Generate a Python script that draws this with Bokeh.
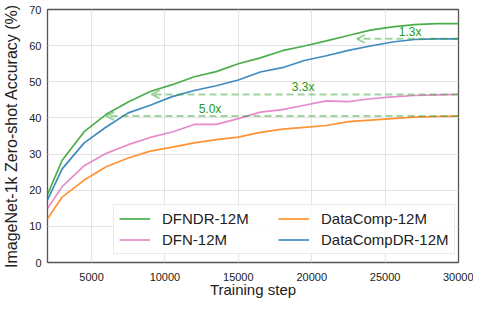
import numpy as np
from bokeh.plotting import figure
from bokeh.models import ColumnDataSource, Arrow, OpenHead, Legend, LegendItem, FixedTicker
from bokeh.core.properties import value
from bokeh.embed import file_html
from bokeh.resources import INLINE

# ---- data ----
steps = [2000, 3000, 4500, 6000, 7500, 9000, 10500, 12000, 13500, 15000,
         16500, 18000, 19500, 21000, 22500, 24000, 25500, 27000, 28500, 30000]
dfndr = [18.8, 28.3, 36.2, 41.0, 44.4, 47.3, 49.2, 51.4, 52.8, 55.0,
         56.6, 58.6, 59.9, 61.3, 62.8, 64.3, 65.2, 65.8, 66.1, 66.1]
dfn = [14.9, 21.0, 26.8, 30.2, 32.6, 34.6, 36.1, 38.2, 38.2, 39.8,
       41.6, 42.3, 43.5, 44.7, 44.5, 45.3, 45.8, 46.2, 46.4, 46.5]
datacomp = [12.1, 18.1, 22.8, 26.5, 28.9, 30.8, 31.9, 33.1, 34.0, 34.7,
            36.0, 36.9, 37.4, 37.9, 39.0, 39.4, 39.8, 40.2, 40.4, 40.5]
datacompdr = [17.3, 25.9, 33.1, 37.5, 41.4, 43.5, 45.9, 47.6, 48.9, 50.5,
              52.7, 53.9, 55.9, 57.2, 58.7, 59.9, 61.0, 61.7, 61.9, 61.9]

speedups = [5.0, 3.3, 1.3]
speedup_labels = ["5.0x", "3.3x", "1.3x"]
speedup_refs = [datacomp, dfn, datacompdr]
label_steps = [13070, 19420, 26700]

x_ticks = [5000, 10000, 15000, 20000, 25000, 30000]
y_ticks = [0, 10, 20, 30, 40, 50, 60, 70]

FONT = "Liberation Sans"
C_GREEN = "#2ca02c"
C_PINK = "#e377c2"
C_ORANGE = "#ff7f0e"
C_BLUE = "#1f77b4"

p = figure(width=473, height=300, x_range=(2000, 30000), y_range=(0, 70),
           output_backend="svg", toolbar_location=None,
           min_border_left=46, min_border_right=15, min_border_top=9, min_border_bottom=0)

p.outline_line_color = "#555555"
p.outline_line_width = 1.3
p.background_fill_color = "white"
p.grid.grid_line_color = "#e3e3e3"
p.grid.grid_line_width = 1

p.xaxis.ticker = FixedTicker(ticks=x_ticks)
p.yaxis.ticker = FixedTicker(ticks=y_ticks)
for ax in (p.xaxis[0], p.yaxis[0]):
    ax.axis_line_color = None
    ax.major_tick_line_color = None
    ax.minor_tick_line_color = None
    ax.major_tick_out = 0
    ax.major_tick_in = 0
    ax.minor_tick_out = 0
    ax.minor_tick_in = 0
    ax.major_label_text_font = FONT
    ax.major_label_text_font_size = "11px"
    ax.major_label_text_color = "#222222"
    ax.axis_label_text_font = FONT
    ax.axis_label_text_font_style = "normal"
    ax.axis_label_text_color = "#222222"
p.xaxis.axis_label_text_font_size = "15px"
p.yaxis.axis_label_text_font_size = "16px"
p.xaxis.axis_label = "Training step"
p.yaxis.axis_label = "ImageNet-1k Zero-shot Accuracy (%)"
p.xaxis.major_label_standoff = 10
p.xaxis.axis_label_standoff = -3
p.yaxis.major_label_standoff = 6
p.yaxis.axis_label_standoff = 6

src = ColumnDataSource(dict(step=steps, dfndr=dfndr, dfn=dfn, datacomp=datacomp, datacompdr=datacompdr))
r_dfndr = p.line("step", "dfndr", source=src, line_color=C_GREEN, line_width=1.7, line_alpha=0.85)
r_dfn = p.line("step", "dfn", source=src, line_color=C_PINK, line_width=1.7, line_alpha=0.85)
r_dc = p.line("step", "datacomp", source=src, line_color=C_ORANGE, line_width=1.7, line_alpha=0.85)
r_dcdr = p.line("step", "datacompdr", source=src, line_color=C_BLUE, line_width=1.7, line_alpha=0.85)

# speed-up arrows: from the last step back to step/speedup at the reference's final accuracy
max_step = steps[-1]
targets = [ref[-1] for ref in speedup_refs]
tips = [max_step / s for s in speedups]
arrow_src = ColumnDataSource(dict(x0=[max_step] * len(targets), y0=targets, x1=tips, y1=targets))
p.add_layout(Arrow(end=OpenHead(size=8, line_color=C_GREEN, line_alpha=0.45, line_width=2),
                   source=arrow_src, x_start="x0", y_start="y0", x_end="x1", y_end="y1",
                   line_color=C_GREEN, line_alpha=0.45, line_width=2, line_dash="7 4"))

lab_src = ColumnDataSource(dict(x=label_steps, y=[t + 2.0 for t in targets], text=speedup_labels))
p.text("x", "y", text="text", source=lab_src, text_align="center", text_baseline="middle",
       text_font=value(FONT), text_font_size="12px", text_color="#239a23")

legend = Legend(items=[LegendItem(label="DFNDR-12M", renderers=[r_dfndr]),
                       LegendItem(label="DFN-12M", renderers=[r_dfn]),
                       LegendItem(label="DataComp-12M", renderers=[r_dc]),
                       LegendItem(label="DataCompDR-12M", renderers=[r_dcdr])],
                ncols=2, location=(66, 8))
legend.label_text_font = FONT
legend.label_text_font_size = "15px"
legend.label_text_color = "#222222"
legend.glyph_width = 31
legend.glyph_height = 17
legend.label_standoff = 12
legend.label_width = 112
legend.label_height = 17
legend.spacing = 4
legend.padding = 5
legend.margin = 0
legend.border_line_color = "#d6d6d6"
legend.background_fill_alpha = 0.85
p.add_layout(legend, "center")

open("out.html", "w").write(file_html(p, INLINE))
